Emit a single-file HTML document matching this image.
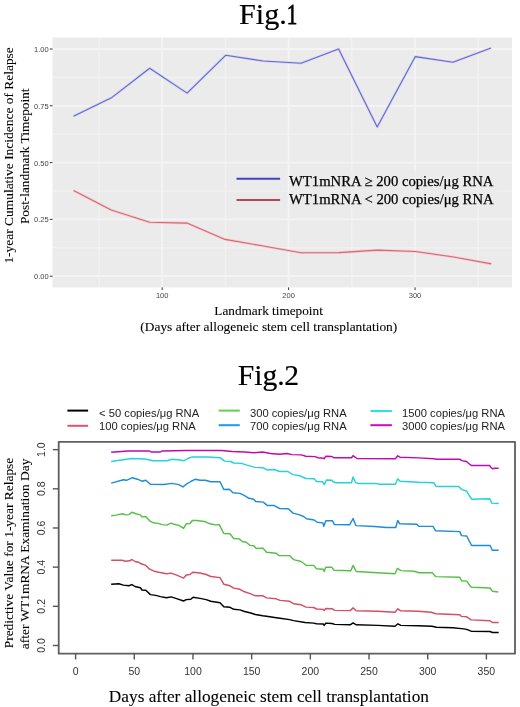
<!DOCTYPE html>
<html><head><meta charset="utf-8"><style>
html,body{margin:0;padding:0;background:#fff;width:520px;height:707px;overflow:hidden;}
svg{display:block;font-family:"Liberation Sans",sans-serif;will-change:transform;}
text.b{stroke:#000;stroke-width:0.08px;}
text.lg{stroke-width:0.25px;}
text.tt{stroke-width:0.2px;}
</style></head><body>
<svg width="520" height="707" viewBox="0 0 520 707">
<rect x="0" y="0" width="520" height="707" fill="#fff"/>
<text x="239.05" y="23.9" class="b tt" font-family='"Liberation Serif", serif' font-size="30.2" fill="#000">Fig.</text>
<text transform="translate(292.1,23.9) scale(0.7,1)" font-family='"Liberation Serif", serif' font-size="30.2" text-anchor="middle" fill="#000" stroke="#000" stroke-width="0.8">1</text>
<rect x="52.5" y="37.5" width="459.5" height="249.9" fill="#EBEBEB"/>
<line x1="52.5" x2="512" y1="247.80" y2="247.80" stroke="#F1F1F1" stroke-width="1.6"/>
<line x1="52.5" x2="512" y1="191.00" y2="191.00" stroke="#F1F1F1" stroke-width="1.6"/>
<line x1="52.5" x2="512" y1="134.20" y2="134.20" stroke="#F1F1F1" stroke-width="1.6"/>
<line x1="52.5" x2="512" y1="77.40" y2="77.40" stroke="#F1F1F1" stroke-width="1.6"/>
<line y1="37.5" y2="287.4" x1="98.92" x2="98.92" stroke="#F1F1F1" stroke-width="1.6"/>
<line y1="37.5" y2="287.4" x1="225.38" x2="225.38" stroke="#F1F1F1" stroke-width="1.6"/>
<line y1="37.5" y2="287.4" x1="351.82" x2="351.82" stroke="#F1F1F1" stroke-width="1.6"/>
<line y1="37.5" y2="287.4" x1="478.27" x2="478.27" stroke="#F1F1F1" stroke-width="1.6"/>
<line x1="52.5" x2="512" y1="276.20" y2="276.20" stroke="#F4F4F4" stroke-width="1.8"/>
<line x1="52.5" x2="512" y1="219.40" y2="219.40" stroke="#F4F4F4" stroke-width="1.8"/>
<line x1="52.5" x2="512" y1="162.60" y2="162.60" stroke="#F4F4F4" stroke-width="1.8"/>
<line x1="52.5" x2="512" y1="105.80" y2="105.80" stroke="#F4F4F4" stroke-width="1.8"/>
<line x1="52.5" x2="512" y1="49.00" y2="49.00" stroke="#F4F4F4" stroke-width="1.8"/>
<line y1="37.5" y2="287.4" x1="162.15" x2="162.15" stroke="#F4F4F4" stroke-width="1.8"/>
<line y1="37.5" y2="287.4" x1="288.60" x2="288.60" stroke="#F4F4F4" stroke-width="1.8"/>
<line y1="37.5" y2="287.4" x1="415.05" x2="415.05" stroke="#F4F4F4" stroke-width="1.8"/>
<line x1="49.8" x2="52.5" y1="276.20" y2="276.20" stroke="#333" stroke-width="1"/>
<text x="48.6" y="279.20" font-family='"Liberation Sans", sans-serif' font-size="7.5" text-anchor="end" fill="#444">0.00</text>
<line x1="49.8" x2="52.5" y1="219.40" y2="219.40" stroke="#333" stroke-width="1"/>
<text x="48.6" y="222.40" font-family='"Liberation Sans", sans-serif' font-size="7.5" text-anchor="end" fill="#444">0.25</text>
<line x1="49.8" x2="52.5" y1="162.60" y2="162.60" stroke="#333" stroke-width="1"/>
<text x="48.6" y="165.60" font-family='"Liberation Sans", sans-serif' font-size="7.5" text-anchor="end" fill="#444">0.50</text>
<line x1="49.8" x2="52.5" y1="105.80" y2="105.80" stroke="#333" stroke-width="1"/>
<text x="48.6" y="108.80" font-family='"Liberation Sans", sans-serif' font-size="7.5" text-anchor="end" fill="#444">0.75</text>
<line x1="49.8" x2="52.5" y1="49.00" y2="49.00" stroke="#333" stroke-width="1"/>
<text x="48.6" y="52.00" font-family='"Liberation Sans", sans-serif' font-size="7.5" text-anchor="end" fill="#444">1.00</text>
<line y1="287.4" y2="290" x1="162.15" x2="162.15" stroke="#333" stroke-width="1"/>
<text x="162.15" y="297.6" font-family='"Liberation Sans", sans-serif' font-size="7.5" text-anchor="middle" fill="#444">100</text>
<line y1="287.4" y2="290" x1="288.60" x2="288.60" stroke="#333" stroke-width="1"/>
<text x="288.60" y="297.6" font-family='"Liberation Sans", sans-serif' font-size="7.5" text-anchor="middle" fill="#444">200</text>
<line y1="287.4" y2="290" x1="415.05" x2="415.05" stroke="#333" stroke-width="1"/>
<text x="415.05" y="297.6" font-family='"Liberation Sans", sans-serif' font-size="7.5" text-anchor="middle" fill="#444">300</text>
<polyline points="73.5,116.2 112.0,97.4 149.7,68.3 187.1,93.1 225.6,55.3 263.3,61.0 301.0,63.2 338.6,48.9 377.2,127.1 415.3,56.6 452.9,62.2 491.0,48.1" fill="none" stroke="#D6D6F4" stroke-width="2.6" stroke-linejoin="round"/>
<polyline points="73.5,190.4 111.2,210.0 149.6,222.3 187.0,223.1 225.0,239.4 263.2,246.0 301.0,252.7 339.0,252.6 377.4,250.1 415.5,251.5 453.6,257.0 491.3,263.9" fill="none" stroke="#F2CCD2" stroke-width="2.6" stroke-linejoin="round"/>
<polyline points="73.5,116.2 112.0,97.4 149.7,68.3 187.1,93.1 225.6,55.3 263.3,61.0 301.0,63.2 338.6,48.9 377.2,127.1 415.3,56.6 452.9,62.2 491.0,48.1" fill="none" stroke="#6868CC" stroke-width="1.1" stroke-linejoin="round"/>
<polyline points="73.5,190.4 111.2,210.0 149.6,222.3 187.0,223.1 225.0,239.4 263.2,246.0 301.0,252.7 339.0,252.6 377.4,250.1 415.5,251.5 453.6,257.0 491.3,263.9" fill="none" stroke="#D86878" stroke-width="1.1" stroke-linejoin="round"/>
<rect x="290" y="171.5" width="207" height="36" fill="#EBEBEB" fill-opacity="0.85"/>
<line x1="236.5" x2="280.1" y1="178.8" y2="178.8" stroke="#4242C6" stroke-width="2"/>
<line x1="236.5" x2="280.1" y1="200" y2="200" stroke="#B44858" stroke-width="2"/>
<text x="289" y="186.2" class="b lg" font-family='"Liberation Serif", serif' font-size="14.7" fill="#000">WT1mNRA ≥ 200 copies/μg RNA</text>
<text x="289" y="203.5" class="b lg" font-family='"Liberation Serif", serif' font-size="14.7" fill="#000">WT1mRNA &lt; 200 copies/μg RNA</text>
<text x="268.6" y="315" class="b" font-family='"Liberation Serif", serif' font-size="13.25" text-anchor="middle" fill="#000">Landmark timepoint</text>
<text x="268.8" y="331.1" class="b" font-family='"Liberation Serif", serif' font-size="13.4" text-anchor="middle" fill="#000">(Days after allogeneic stem cell transplantation)</text>
<text transform="translate(12.8,155.4) rotate(-90)" class="b" font-family='"Liberation Serif", serif' font-size="13.45" text-anchor="middle" fill="#000">1-year Cumulative Incidence of Relapse</text>
<text transform="translate(29.3,156.3) rotate(-90)" class="b" font-family='"Liberation Serif", serif' font-size="13.3" text-anchor="middle" fill="#000">Post-landmark Timepoint</text>
<text x="237.85" y="385.1" class="b tt" font-family='"Liberation Serif", serif' font-size="29.6" fill="#000">Fig.</text>
<text x="284.3" y="385.1" class="b tt" font-family='"Liberation Serif", serif' font-size="29.6" fill="#000">2</text>
<line x1="67.4" x2="88.1" y1="410.6" y2="410.6" stroke="#000000" stroke-width="2"/>
<text x="99.1" y="416.8" font-family='"Liberation Sans", sans-serif' font-size="11.2" fill="#222">&lt; 50 copies/μg RNA</text>
<line x1="67.4" x2="88.1" y1="425.8" y2="425.8" stroke="#DF536B" stroke-width="2"/>
<text x="99.1" y="429.7" font-family='"Liberation Sans", sans-serif' font-size="11.2" fill="#222">100 copies/μg RNA</text>
<line x1="218.7" x2="239.8" y1="410.6" y2="410.6" stroke="#61D04F" stroke-width="2"/>
<text x="250" y="416.8" font-family='"Liberation Sans", sans-serif' font-size="11.2" fill="#222">300 copies/μg RNA</text>
<line x1="218.7" x2="239.8" y1="425.2" y2="425.2" stroke="#2297E6" stroke-width="2"/>
<text x="250" y="429.7" font-family='"Liberation Sans", sans-serif' font-size="11.2" fill="#222">700 copies/μg RNA</text>
<line x1="370.4" x2="391.9" y1="411" y2="411" stroke="#28E2E5" stroke-width="2"/>
<text x="402.1" y="416.8" font-family='"Liberation Sans", sans-serif' font-size="11.2" fill="#222">1500 copies/μg RNA</text>
<line x1="370.4" x2="391.9" y1="425.2" y2="425.2" stroke="#CD0BBC" stroke-width="2"/>
<text x="402.1" y="429.7" font-family='"Liberation Sans", sans-serif' font-size="11.2" fill="#222">3000 copies/μg RNA</text>
<rect x="58.7" y="441.9" width="456.3" height="211.8" fill="none" stroke="#5E5E5E" stroke-width="1.8" stroke-linejoin="round"/>
<line x1="52.8" x2="58.7" y1="645.50" y2="645.50" stroke="#555" stroke-width="1.4"/>
<text transform="translate(45.3,645.50) rotate(-90)" font-family='"Liberation Sans", sans-serif' font-size="10.5" text-anchor="middle" fill="#333">0.0</text>
<line x1="52.8" x2="58.7" y1="606.33" y2="606.33" stroke="#555" stroke-width="1.4"/>
<text transform="translate(45.3,606.33) rotate(-90)" font-family='"Liberation Sans", sans-serif' font-size="10.5" text-anchor="middle" fill="#333">0.2</text>
<line x1="52.8" x2="58.7" y1="567.16" y2="567.16" stroke="#555" stroke-width="1.4"/>
<text transform="translate(45.3,567.16) rotate(-90)" font-family='"Liberation Sans", sans-serif' font-size="10.5" text-anchor="middle" fill="#333">0.4</text>
<line x1="52.8" x2="58.7" y1="527.99" y2="527.99" stroke="#555" stroke-width="1.4"/>
<text transform="translate(45.3,527.99) rotate(-90)" font-family='"Liberation Sans", sans-serif' font-size="10.5" text-anchor="middle" fill="#333">0.6</text>
<line x1="52.8" x2="58.7" y1="488.82" y2="488.82" stroke="#555" stroke-width="1.4"/>
<text transform="translate(45.3,488.82) rotate(-90)" font-family='"Liberation Sans", sans-serif' font-size="10.5" text-anchor="middle" fill="#333">0.8</text>
<line x1="52.8" x2="58.7" y1="449.65" y2="449.65" stroke="#555" stroke-width="1.4"/>
<text transform="translate(45.3,449.65) rotate(-90)" font-family='"Liberation Sans", sans-serif' font-size="10.5" text-anchor="middle" fill="#333">1.0</text>
<line y1="653.7" y2="659.5" x1="75.60" x2="75.60" stroke="#555" stroke-width="1.4"/>
<text x="75.60" y="674.9" font-family='"Liberation Sans", sans-serif' font-size="10.5" text-anchor="middle" fill="#333">0</text>
<line y1="653.7" y2="659.5" x1="134.28" x2="134.28" stroke="#555" stroke-width="1.4"/>
<text x="134.28" y="674.9" font-family='"Liberation Sans", sans-serif' font-size="10.5" text-anchor="middle" fill="#333">50</text>
<line y1="653.7" y2="659.5" x1="192.97" x2="192.97" stroke="#555" stroke-width="1.4"/>
<text x="192.97" y="674.9" font-family='"Liberation Sans", sans-serif' font-size="10.5" text-anchor="middle" fill="#333">100</text>
<line y1="653.7" y2="659.5" x1="251.66" x2="251.66" stroke="#555" stroke-width="1.4"/>
<text x="251.66" y="674.9" font-family='"Liberation Sans", sans-serif' font-size="10.5" text-anchor="middle" fill="#333">150</text>
<line y1="653.7" y2="659.5" x1="310.34" x2="310.34" stroke="#555" stroke-width="1.4"/>
<text x="310.34" y="674.9" font-family='"Liberation Sans", sans-serif' font-size="10.5" text-anchor="middle" fill="#333">200</text>
<line y1="653.7" y2="659.5" x1="369.02" x2="369.02" stroke="#555" stroke-width="1.4"/>
<text x="369.02" y="674.9" font-family='"Liberation Sans", sans-serif' font-size="10.5" text-anchor="middle" fill="#333">250</text>
<line y1="653.7" y2="659.5" x1="427.71" x2="427.71" stroke="#555" stroke-width="1.4"/>
<text x="427.71" y="674.9" font-family='"Liberation Sans", sans-serif' font-size="10.5" text-anchor="middle" fill="#333">300</text>
<line y1="653.7" y2="659.5" x1="486.39" x2="486.39" stroke="#555" stroke-width="1.4"/>
<text x="486.39" y="674.9" font-family='"Liberation Sans", sans-serif' font-size="10.5" text-anchor="middle" fill="#333">350</text>
<polyline points="111.2,584.2 118.8,583.8 123.5,585.1 128.8,585.8 131.9,584.6 135.0,586.5 140.4,587.7 141.9,590.0 145.8,590.3 150.4,594.6 155.8,595.4 160.4,596.6 166.5,597.7 171.2,596.9 177.3,598.9 183.6,601.0 186.2,599.6 190.8,599.2 193.1,597.3 200.0,598.4 206.2,599.6 210.8,601.2 220.0,602.7 223.8,606.8 230.0,607.3 233.8,609.3 240.0,609.9 244.6,611.5 250.8,613.0 255.4,614.5 262.7,615.8 266.5,616.3 276.2,617.7 280.0,618.3 289.6,619.6 293.5,620.6 305.0,622.5 313.7,623.1 316.5,623.8 323.3,624.0 324.2,625.4 325.8,623.1 331.9,623.5 334.8,624.4 350.2,624.8 353.1,622.9 356.2,624.8 377.7,625.4 395.0,626.2 397.9,623.8 400.8,625.4 418.0,625.8 432.0,626.2 436.4,627.3 452.9,627.7 461.5,628.6 466.7,629.4 471.1,631.2 490.1,631.5 492.3,632.5 498.7,632.5" fill="none" stroke="#000000" stroke-width="1.45" stroke-linejoin="round"/>
<polyline points="111.2,560.3 121.9,560.3 125.8,561.2 129.6,560.8 131.9,559.5 135.0,561.5 138.8,562.3 141.2,563.8 145.8,565.4 149.6,569.2 154.2,571.2 158.8,572.3 166.5,573.8 171.2,573.1 177.3,575.4 183.6,578.1 186.2,575.0 190.0,574.5 193.1,572.2 200.0,573.0 206.2,574.5 210.8,576.5 220.0,577.6 223.8,584.2 230.0,585.8 233.8,588.1 240.0,589.3 243.1,591.2 250.8,593.9 255.4,595.8 262.7,595.6 266.5,597.9 276.2,598.8 280.0,600.4 289.6,601.3 293.5,603.7 301.2,604.8 306.0,607.1 313.7,607.5 316.5,609.0 323.3,609.4 324.2,610.6 325.8,608.5 331.9,608.7 334.8,610.4 350.2,610.6 353.1,607.9 356.2,610.8 377.7,611.3 395.0,612.3 397.9,608.8 400.8,610.8 418.0,611.3 431.3,612.2 435.6,613.8 459.8,614.7 461.5,616.4 466.7,616.8 471.1,619.9 490.1,620.8 492.3,622.5 498.7,622.5" fill="none" stroke="#D24F66" stroke-width="1.45" stroke-linejoin="round"/>
<polyline points="111.2,515.8 115.8,515.1 122.7,513.8 125.8,514.9 128.8,514.6 131.9,512.3 135.8,513.8 140.4,514.9 141.9,516.9 145.8,516.5 149.6,520.8 153.5,522.8 158.1,523.4 161.9,524.6 166.5,525.1 171.2,523.1 174.2,524.3 178.8,525.4 183.6,528.4 186.2,523.8 190.0,523.5 192.3,520.5 196.9,520.5 204.6,521.5 210.0,523.8 215.4,524.9 219.2,524.6 223.8,533.5 230.0,533.8 233.8,538.5 239.2,538.9 242.3,541.5 246.2,542.3 250.0,545.4 253.8,545.7 256.2,548.5 262.7,548.1 266.5,552.3 276.2,553.3 279.0,555.6 289.6,555.6 293.5,559.6 301.2,561.5 306.0,565.2 313.7,565.4 316.5,568.7 323.3,569.2 324.2,571.5 325.8,567.3 331.9,567.3 333.8,570.2 350.8,570.8 353.1,565.4 356.2,571.5 377.7,572.7 395.0,573.7 397.5,568.3 400.8,570.6 414.2,571.2 419.0,572.7 432.3,572.8 435.6,576.6 459.8,577.3 461.5,580.8 466.7,581.1 470.2,586.0 471.9,587.3 490.1,588.0 492.3,591.2 498.2,592.0" fill="none" stroke="#56C046" stroke-width="1.45" stroke-linejoin="round"/>
<polyline points="111.2,483.1 123.5,479.7 126.5,480.3 132.4,477.7 137.3,479.2 142.0,481.2 145.8,480.3 150.4,484.3 163.5,484.5 172.0,483.4 178.8,484.6 183.0,486.9 186.9,483.8 190.8,481.5 195.4,479.2 200.0,480.3 205.4,480.3 210.8,481.8 220.0,481.8 223.8,489.5 229.2,489.2 233.0,492.8 240.0,493.4 244.6,495.7 248.8,498.3 253.7,499.2 255.6,501.5 263.3,502.1 267.1,505.4 273.8,505.4 279.6,508.5 288.3,508.8 293.0,513.1 298.8,514.6 303.7,516.5 306.5,518.8 314.2,520.0 317.1,522.3 322.9,522.9 323.8,526.2 325.8,520.8 332.5,520.8 334.4,524.6 349.6,524.8 353.1,518.5 355.8,525.6 374.6,526.5 386.2,527.5 395.8,527.5 397.7,520.4 399.6,523.7 416.9,524.2 418.8,526.2 433.0,526.4 435.6,530.8 459.8,531.6 461.5,535.6 466.7,536.0 469.3,541.2 471.6,545.5 490.1,545.5 492.3,550.3 498.7,550.3" fill="none" stroke="#1F8CDA" stroke-width="1.45" stroke-linejoin="round"/>
<polyline points="111.2,461.5 132.0,458.5 145.0,459.0 152.7,460.8 166.5,460.8 172.7,459.2 180.0,460.0 183.8,460.8 187.7,458.5 192.3,456.9 207.7,457.0 220.0,457.7 224.6,461.1 230.8,461.5 233.8,463.0 241.5,463.4 247.7,465.4 255.4,467.4 262.7,467.7 267.3,470.0 274.2,469.5 279.6,471.5 288.0,471.5 292.7,474.6 299.6,475.7 305.8,478.5 314.2,478.8 316.5,481.5 322.7,481.8 324.2,484.6 326.5,480.0 331.9,480.3 333.0,481.8 336.2,482.8 351.5,482.8 353.0,476.9 355.4,482.3 357.7,483.4 376.0,483.4 379.2,484.3 395.4,484.3 397.7,478.8 400.0,481.2 418.5,482.3 433.8,482.7 435.8,486.2 438.7,486.5 458.8,486.5 461.7,489.6 466.5,491.0 469.4,495.8 471.9,499.2 489.6,498.7 491.9,503.1 498.7,503.5" fill="none" stroke="#26D2D6" stroke-width="1.45" stroke-linejoin="round"/>
<polyline points="111.2,452.3 128.0,451.0 149.6,451.0 151.0,452.0 160.4,452.0 162.0,451.0 186.2,450.5 221.5,450.5 232.3,451.5 244.6,452.0 253.8,452.8 262.7,452.0 270.4,453.5 279.6,454.2 287.3,453.5 291.9,454.6 301.2,454.9 305.8,456.2 315.0,456.6 318.0,457.7 323.5,458.2 324.2,458.8 325.8,456.2 331.9,456.5 333.8,457.7 351.5,457.7 353.0,455.7 357.0,458.5 395.4,458.8 397.7,455.8 400.0,457.2 418.5,457.9 433.8,458.7 436.7,459.2 459.8,459.2 461.7,460.6 466.5,461.5 469.4,464.0 471.3,465.4 489.6,465.4 490.6,466.9 492.5,468.8 494.4,468.3 498.7,468.3" fill="none" stroke="#C00AB0" stroke-width="1.45" stroke-linejoin="round"/>
<text x="268.9" y="701.7" class="b" font-family='"Liberation Serif", serif' font-size="17.3" text-anchor="middle" fill="#000">Days after allogeneic stem cell transplantation</text>
<text transform="translate(12.8,553) rotate(-90)" class="b" font-family='"Liberation Serif", serif' font-size="13.43" text-anchor="middle" fill="#000">Predictive Value for 1-year Relapse</text>
<text transform="translate(29.3,553.9) rotate(-90)" class="b" font-family='"Liberation Serif", serif' font-size="13.4" text-anchor="middle" fill="#000">after WT1mRNA Examination Day</text>
</svg>
</body></html>
